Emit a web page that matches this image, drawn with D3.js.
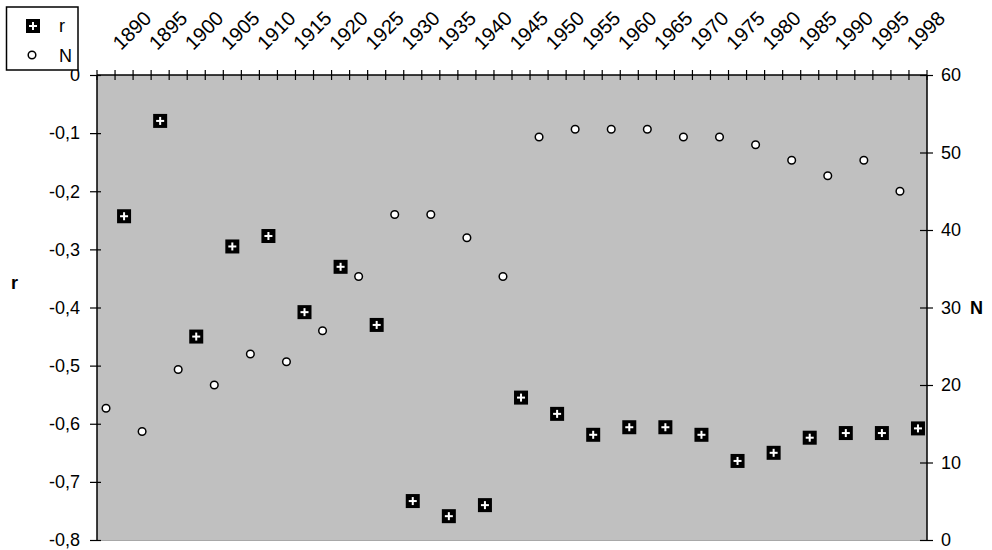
<!DOCTYPE html>
<html>
<head>
<meta charset="utf-8">
<script src="https://cdn.jsdelivr.net/npm/d3@7"></script>
<style>
  html, body { margin: 0; padding: 0; background: #fff; }
  svg { display: block; font-family: "Liberation Sans", Arial, sans-serif; }
</style>
</head>
<body>
<svg id="chart" width="992" height="550"></svg>
<script>
// ---- data ----
const years = ["1890","1895","1900","1905","1910","1915","1920","1925","1930","1935","1940",
  "1945","1950","1955","1960","1965","1970","1975","1980","1985","1990","1995","1998"];
const rValues = [-0.243,-0.079,-0.450,-0.295,-0.277,-0.408,-0.330,-0.430,-0.733,-0.759,-0.740,
  -0.555,-0.583,-0.619,-0.606,-0.606,-0.619,-0.664,-0.650,-0.624,-0.616,-0.616,-0.608];
const nValues = [17,14,22,20,24,23,27,34,42,42,39,34,52,53,53,53,52,52,51,49,47,49,45];
const rTicks = [0,-0.1,-0.2,-0.3,-0.4,-0.5,-0.6,-0.7,-0.8];
const nTicks = [0,10,20,30,40,50,60];

// ---- layout ----
const svg = d3.select("#chart");
const L = 97, R = 927, T = 75, B = 540;
const fontSize = 18;

// each year occupies two category slots: N slot then r slot
const slots = [];
years.forEach(y => { slots.push("N" + y); slots.push("r" + y); });

const x = d3.scaleBand().domain(slots).range([L, R]).padding(0);
const bw = x.bandwidth();
const yR = d3.scaleLinear().domain([-0.8, 0]).range([B, T]);
const yN = d3.scaleLinear().domain([0, 60]).range([B, T]);

// plot background
svg.append("rect").attr("x", L).attr("y", T).attr("width", R - L).attr("height", B - T)
  .attr("fill", "#c0c0c0");
svg.append("line").attr("x1", L).attr("x2", R).attr("y1", B + 0.5).attr("y2", B + 0.5)
  .attr("stroke", "#a8a8a8").attr("stroke-width", 1);

// top category axis
const topG = svg.append("g");
topG.append("line").attr("x1", L).attr("x2", R).attr("y1", T).attr("y2", T)
  .attr("stroke", "#000").attr("stroke-width", 1.5);
const tickPos = slots.map(s => x(s)).concat([R]);
topG.selectAll("line.tk").data(tickPos).join("line").attr("class", "tk")
  .attr("x1", d => d).attr("x2", d => d).attr("y1", T - 5).attr("y2", T + 5)
  .attr("stroke", "#000").attr("stroke-width", 1.2);
topG.selectAll("text").data(years).join("text")
  .attr("transform", d => `translate(${x("r" + d) + bw / 2 - 3},${51}) rotate(-45)`)
  .attr("font-size", 20).attr("fill", "#000").text(d => d);

// left r axis
const fmtR = d => d === 0 ? "0" : d.toFixed(1).replace(".", ",");
const leftAxis = d3.axisLeft(yR).tickValues(rTicks).tickFormat(fmtR).tickSize(6).tickPadding(10);
const lg = svg.append("g").attr("transform", `translate(${L},0)`).call(leftAxis);
lg.select(".domain").attr("stroke", "#000").attr("stroke-width", 1.5).attr("d", `M0,${T}V${B}`);
lg.selectAll(".tick line").attr("x1", 4).attr("x2", -7).attr("stroke", "#000").attr("stroke-width", 1.2);
lg.selectAll(".tick text").attr("font-size", fontSize).attr("font-family", "Liberation Sans, Arial, sans-serif")
  .attr("fill", "#000").attr("x", -17);

// right N axis
const rightAxis = d3.axisRight(yN).tickValues(nTicks).tickFormat(d3.format("d")).tickSize(6).tickPadding(10);
const rg = svg.append("g").attr("transform", `translate(${R},0)`).call(rightAxis);
rg.select(".domain").attr("stroke", "#000").attr("stroke-width", 1.5).attr("d", `M0,${T}V${B}`);
rg.selectAll(".tick line").attr("x1", -7).attr("x2", 6).attr("stroke", "#000").attr("stroke-width", 1.2);
rg.selectAll(".tick text").attr("font-size", fontSize).attr("font-family", "Liberation Sans, Arial, sans-serif")
  .attr("fill", "#000").attr("x", 14);

// axis titles
svg.append("text").attr("x", 11).attr("y", 289).attr("font-size", fontSize).attr("font-weight", "bold").text("r");
svg.append("text").attr("x", 970).attr("y", 314).attr("font-size", fontSize).attr("font-weight", "bold").text("N");

// marker helpers
function drawSquare(g, cx, cy) {
  g.append("rect").attr("x", cx - 7).attr("y", cy - 7).attr("width", 14).attr("height", 14).attr("fill", "#000");
  g.append("rect").attr("x", cx - 4).attr("y", cy - 1).attr("width", 8).attr("height", 2).attr("fill", "#fff");
  g.append("rect").attr("x", cx - 1).attr("y", cy - 4).attr("width", 2).attr("height", 8).attr("fill", "#fff");
}

// N series: white circles
const nData = years.map((y, i) => ({ key: "N" + y, v: nValues[i] }));
svg.append("g").selectAll("circle").data(nData).join("circle")
  .attr("cx", d => x(d.key) + bw / 2).attr("cy", d => yN(d.v)).attr("r", 3.8)
  .attr("fill", "#fff").attr("stroke", "#000").attr("stroke-width", 1.5);

// r series: black squares with white plus
const rData = years.map((y, i) => ({ key: "r" + y, v: rValues[i] }));
const rG = svg.append("g");
rG.selectAll("g").data(rData).join("g")
  .each(function (d) { drawSquare(d3.select(this), x(d.key) + bw / 2, yR(d.v)); });

// legend
const leg = svg.append("g");
leg.append("rect").attr("x", 6.5).attr("y", 7).attr("width", 71.5).attr("height", 63)
  .attr("fill", "#fff").attr("stroke", "#000").attr("stroke-width", 1.5);
drawSquare(leg, 33, 26);
leg.append("circle").attr("cx", 32).attr("cy", 55).attr("r", 3.8)
  .attr("fill", "#fff").attr("stroke", "#000").attr("stroke-width", 1.5);
leg.append("text").attr("x", 59).attr("y", 32).attr("font-size", fontSize).text("r");
leg.append("text").attr("x", 59).attr("y", 62).attr("font-size", fontSize).text("N");
</script>
</body>
</html>
